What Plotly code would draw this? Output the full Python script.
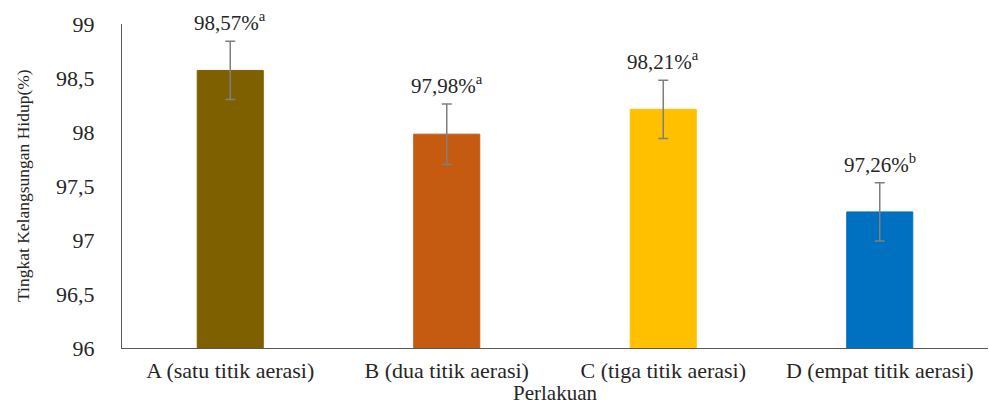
import plotly.graph_objects as go

categories = ["A (satu titik aerasi)", "B (dua titik aerasi)", "C (tiga titik aerasi)", "D (empat titik aerasi)"]
values = [98.57, 97.98, 98.21, 97.26]
errors = [0.27, 0.28, 0.27, 0.27]
letters = ["a", "a", "a", "b"]
colors = ["#7F6000", "#C55A11", "#FFC000", "#0070C0"]
y_ticks = [96, 96.5, 97, 97.5, 98, 98.5, 99]
y_tick_text = ["96", "96,5", "97", "97,5", "98", "98,5", "99"]

FONT = "Liberation Serif"

fig = go.Figure()
fig.add_trace(go.Bar(
    x=categories, y=values,
    marker=dict(color=colors, line=dict(color=colors, width=1)),
    width=0.305,
    error_y=dict(type="data", array=errors, visible=True, color="#7F7F7F", thickness=1.5, width=5),
    hoverinfo="skip",
))

annotations = []
for c, v, e, l in zip(categories, values, errors, letters):
    annotations.append(dict(
        x=c, y=v + e, xref="x", yref="y", yanchor="bottom", yshift=4,
        text=f"{v:.2f}".replace(".", ",") + "%<sup>" + l + "</sup>",
        showarrow=False, font=dict(family=FONT, size=21, color="#262626"),
    ))
annotations.append(dict(
    x=0, y=0.5, xref="paper", yref="paper", xanchor="center", yanchor="middle",
    xshift=-99, textangle=-90, text="Tingkat Kelangsungan Hidup(%)", showarrow=False,
    font=dict(family=FONT, size=17.5, color="#262626"),
))
annotations.append(dict(
    x=0.5, y=0, xref="paper", yref="paper", xanchor="center", yanchor="middle",
    yshift=-45, text="Perlakuan", showarrow=False,
    font=dict(family=FONT, size=21, color="#262626"),
))

fig.update_layout(
    width=989, height=400,
    margin=dict(l=122, r=1, t=24, b=52, autoexpand=False),
    paper_bgcolor="white", plot_bgcolor="white",
    showlegend=False,
    bargap=0.695,
    annotations=annotations,
    font=dict(family=FONT, color="#262626"),
)
fig.update_xaxes(
    showline=True, linecolor="#595959", linewidth=1, ticks="", showgrid=False, automargin=False,
    tickfont=dict(family=FONT, size=22, color="#262626"), ticklabelstandoff=3,
)
fig.update_yaxes(
    range=[96, 99], tickvals=y_ticks, ticktext=y_tick_text, automargin=False,
    showline=True, linecolor="#595959", linewidth=1, ticks="", showgrid=False, zeroline=False,
    tickfont=dict(family=FONT, size=22, color="#262626"), ticklabelstandoff=22,
)

fig.write_html("out.html", config={"displayModeBar": False},
               post_script="document.body.style.margin='0';")
